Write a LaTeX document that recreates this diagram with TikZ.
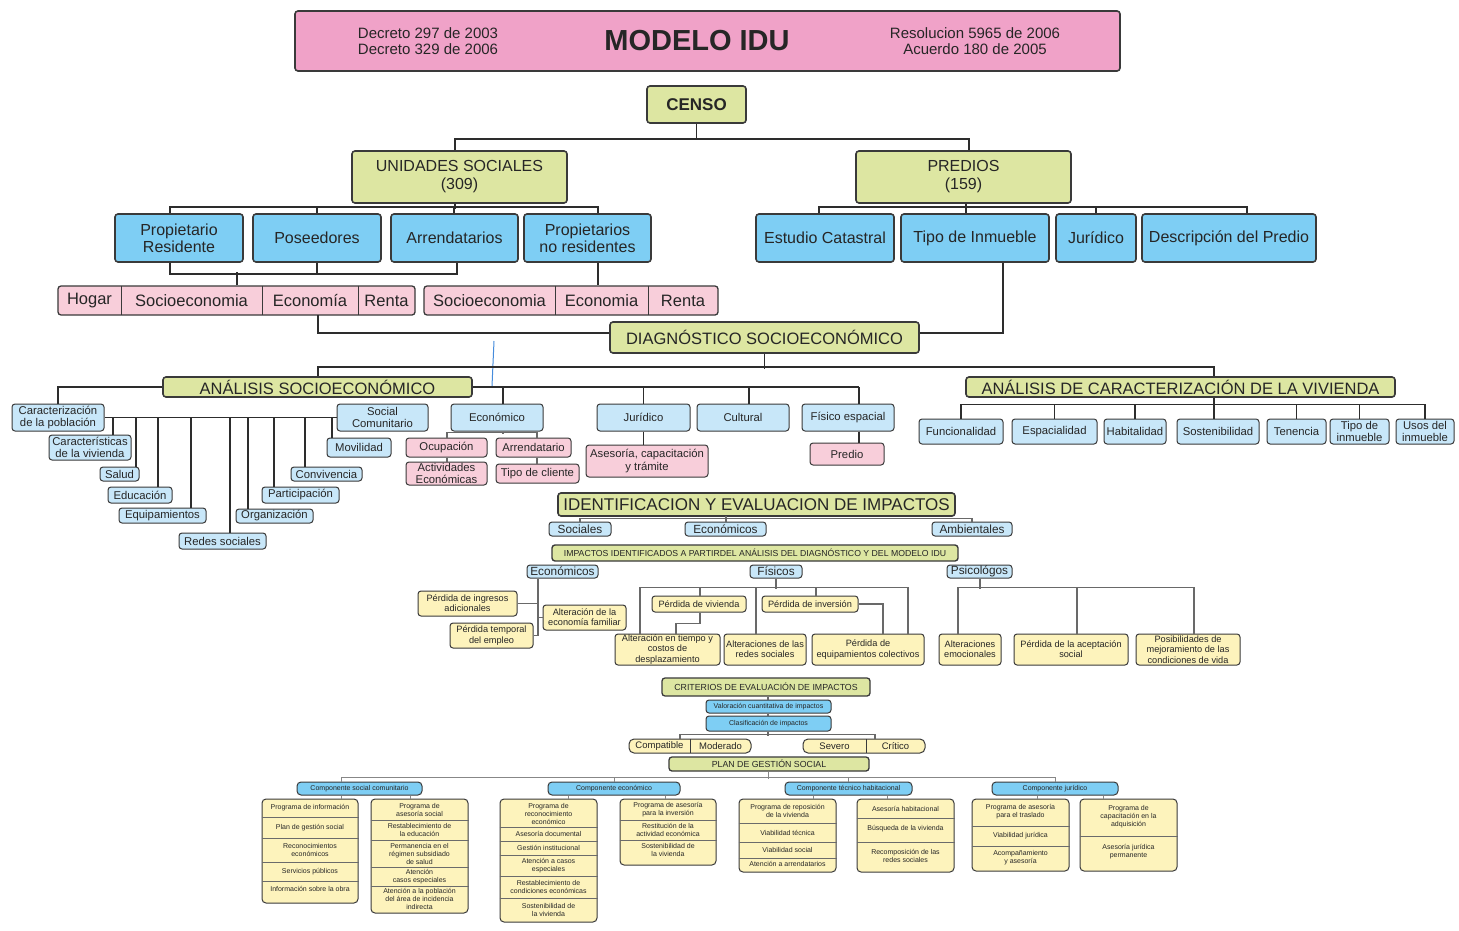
\documentclass[tikz,border=0pt]{standalone}
\usepackage{fontspec}
\setmainfont{Liberation Sans}
\usetikzlibrary{calc}
\definecolor{hdrc}{RGB}{240,162,200}
\definecolor{grnc}{RGB}{221,230,162}
\definecolor{bluc}{RGB}{126,206,244}
\definecolor{lbluc}{RGB}{200,231,249}
\definecolor{pnkc}{RGB}{248,206,218}
\definecolor{crmc}{RGB}{253,243,188}
\definecolor{edgec}{RGB}{58,58,58}
\definecolor{linec}{RGB}{45,45,45}
\definecolor{glinec}{RGB}{105,105,105}
\definecolor{strayc}{RGB}{70,140,220}
\newcommand\fz[2]{\fontsize{#1}{#2}\selectfont}
\newcommand\bx[7]{%
 \pgfmathsetmacro\bxw{#5-#3}\pgfmathsetmacro\bxh{#6-#4}%
 \pgfmathsetmacro\bxcx{(#3+#5)/2}\pgfmathsetmacro\bxcy{(#4+#6)/2}%
 \node[#1, minimum width=\bxw pt, minimum height=\bxh pt] (#2) at (\bxcx,\bxcy) {#7};}
\newcommand\itx[4]{\node[itm] (#1) at (#2,#3) {#4};}
\begin{document}
\begin{tikzpicture}[x=1pt,y=-1pt,
 box/.style={draw=edgec, rounded corners=3pt, line width=1.3pt, align=center, inner sep=0pt, text=black!85},
 bigbox/.style={box, line width=1.6pt},
 cell/.style={inner sep=0pt, align=center, text=black!85},
 sbox/.style={box, line width=1pt, fill=lbluc, font=\fz{11.3}{12.5}},
 spk/.style={box, line width=1pt, fill=pnkc, font=\fz{11.3}{12.5}},
 ibox/.style={box, line width=1pt, fill=crmc, font=\fz{9.2}{10.3}},
 cbox/.style={box, line width=1pt, fill=bluc, rounded corners=4pt, font=\fz{7}{8}},
 colbox/.style={box, line width=1pt, fill=crmc, rounded corners=4pt},
 itm/.style={cell, font=\fz{7}{8}},
 div/.style={draw=edgec!75, line width=0.7pt},
 con/.style={draw=linec, line width=1.5pt},
 gcon/.style={draw=glinec, line width=1.1pt},
 fcon/.style={draw=glinec!80, line width=0.8pt}]
\fill[white] (0,0) rectangle (1459,931);
\useasboundingbox (0,0) rectangle (1459,931);

% ---------- header ----------
\bx{bigbox, fill=hdrc}{hdr}{295}{11}{1120}{71}{}
\node[cell, font=\fz{15}{16}] (dec) at (428,41) {Decreto 297 de 2003\\Decreto 329 de 2006};
\node[cell, font=\bfseries\fz{29}{30}] (ttl) at (697,41) {MODELO IDU};
\node[cell, font=\fz{15}{16}] (res) at (975,41) {Resolucion 5965 de 2006\\Acuerdo 180 de 2005};

\bx{bigbox, fill=grnc, font=\bfseries\fz{17}{19}}{censo}{647}{86}{746}{123}{CENSO}
\bx{bigbox, fill=grnc, font=\fz{16}{18}}{us}{352}{151}{567}{203}{UNIDADES SOCIALES\\(309)}
\bx{bigbox, fill=grnc, font=\fz{16}{18}}{pd}{856}{151}{1071}{203}{PREDIOS\\(159)}
\draw[con] (censo.south) -- (censo.south |- 0,140);
\draw[con] (us.north -| 455,0) -- ++(0,-11) -| (pd.north -| 969,0);

% ---------- unidades sociales ----------
\bx{bigbox, fill=bluc, font=\fz{16}{17}}{pres}{115}{214}{243}{262}{Propietario\\Residente}
\bx{bigbox, fill=bluc, font=\fz{16}{17}}{pos}{253}{214}{381}{262}{Poseedores}
\bx{bigbox, fill=bluc, font=\fz{16}{17}}{arr}{391}{214}{518}{262}{Arrendatarios}
\bx{bigbox, fill=bluc, font=\fz{16}{17}}{pnr}{524}{214}{651}{262}{Propietarios\\no residentes}
\draw[con] (us.south -| 455,0) -- ++(0,5);
\draw[con] (pres.north -| 170,0) -- ++(0,-6) -| (pnr.north -| 598,0);
\draw[con] (pos.north -| 317,0) -- ++(0,-6);
\draw[con] (arr.north -| 454,0) -- ++(0,-6);

% ---------- predios ----------
\bx{bigbox, fill=bluc, font=\fz{16}{17}}{ec}{756}{214}{894}{262}{Estudio Catastral}
\bx{bigbox, fill=bluc, font=\fz{16}{17}}{ti}{901}{214}{1049}{262}{Tipo de Inmueble}
\bx{bigbox, fill=bluc, font=\fz{16}{17}}{ju}{1056}{214}{1136}{262}{Jurídico}
\bx{bigbox, fill=bluc, font=\fz{16}{17}}{dp}{1142}{214}{1316}{262}{Descripción del Predio}
\draw[con] (pd.south -| 966,0) -- (ti.north -| 966,0);
\draw[con] (ec.north -| 819,0) -- ++(0,-6) -| (dp.north -| 1247,0);
\draw[con] (ju.north -| 1096,0) -- ++(0,-6);

% ---------- pink rows ----------
\bx{bigbox, line width=1.3pt, fill=pnkc}{g1}{58}{286}{415}{315}{}
\bx{cell, font=\fz{16.5}{18}}{hog}{58}{286}{121}{315}{Hogar}
\bx{cell, font=\fz{16.5}{18}}{soc1}{121}{286}{262}{315}{Socioeconomia}
\bx{cell, font=\fz{16.5}{18}}{eco1}{262}{286}{358}{315}{Economía}
\bx{cell, font=\fz{16.5}{18}}{ren1}{358}{286}{415}{315}{Renta}
\bx{bigbox, line width=1.3pt, fill=pnkc}{g2}{424}{286}{718}{315}{}
\bx{cell, font=\fz{16.5}{18}}{soc2}{424}{286}{555}{315}{Socioeconomia}
\bx{cell, font=\fz{16.5}{18}}{eco2}{555}{286}{648}{315}{Economia}
\bx{cell, font=\fz{16.5}{18}}{ren2}{648}{286}{718}{315}{Renta}
\foreach \n in {hog,soc1,eco1,soc2,eco2} \draw[edgec, line width=1.2pt] (\n.north east) -- (\n.south east);
\draw[con] (pres.south -| 170,0) -- ++(0,11) -| (arr.south -| 457,0);
\draw[con] (pos.south -| 317,0) -- ++(0,11);
\draw[con] (g1.north -| 237,0) -- ++(0,-13);
\draw[con] (pnr.south -| 598,0) -- (g2.north -| 598,0);

% ---------- diagnostico ----------
\bx{bigbox, fill=grnc, font=\fz{16.5}{18}}{diag}{610}{322}{919}{353}{DIAGNÓSTICO SOCIOECONÓMICO}
\draw[con] (eco1.south -| 318,0) |- (diag.west |- 0,333);
\draw[con] (ti.south -| 1003,0) |- (diag.east |- 0,333);
\draw[strayc, line width=1pt] (494,341) -- (492,386);

\bx{bigbox, fill=grnc, font=\fz{16.5}{18}}{as}{163}{377}{472}{397}{ANÁLISIS SOCIOECONÓMICO}
\bx{bigbox, fill=grnc, font=\fz{16.5}{18}}{acv}{966}{377}{1395}{397}{ANÁLISIS DE CARACTERIZACIÓN DE LA VIVIENDA}
\draw[con] (diag.south) -- ++(0,15);
\draw[con] (as.north -| 318,0) -- ++(0,-9) -| (acv.north -| 1214,0);

% ---------- analisis socioeconomico ----------
\bx{sbox}{car}{12}{404}{104}{431}{Caracterización\\de la población}
\bx{sbox}{soc}{337}{404}{428}{431}{Social\\Comunitario}
\bx{sbox}{eco}{451}{404}{543}{431}{Económico}
\bx{sbox}{jur}{597}{404}{690}{431}{Jurídico}
\bx{sbox}{cul}{697}{404}{789}{431}{Cultural}
\bx{sbox}{fis}{802}{404}{894}{431}{Físico espacial}
\bx{sbox}{cv}{49}{435}{131}{460}{Características\\de la vivienda}
\bx{sbox}{sal}{100}{467}{139}{481}{Salud}
\bx{sbox}{edu}{108}{487}{172}{503}{Educación}
\bx{sbox}{equ}{119}{508}{206}{523}{Equipamientos}
\bx{sbox}{red}{179}{533}{266}{549}{Redes sociales}
\bx{sbox}{org}{236}{509}{313}{523}{Organización}
\bx{sbox}{par}{262}{487}{339}{503}{Participación}
\bx{sbox}{cnv}{291}{467}{362}{481}{Convivencia}
\bx{sbox}{mov}{327}{438}{391}{457}{Movilidad}
\draw[con] (as.west) -| (car.north);
\draw[con] (as.east) -- (as.east -| 859,0);
\draw[con] (eco.north -| 503,0) -- ++(0,-17);
\draw[con] (jur.north) -- ++(0,-17);
\draw[con] (cul.north -| 749,0) -- ++(0,-17);
\draw[con] (fis.north -| 859,0) -- ++(0,-17);
\draw[con] (car.east) -- (soc.west);
\foreach \n/\x in {cv/113,sal/136,edu/158,equ/191,red/230,org/248,par/274,cnv/305,mov/332}
  \draw[con] (\n.north -| \x,0) -- (car.east -| \x,0);

\bx{spk}{ocu}{406}{438}{487}{457}{Ocupación}
\bx{spk}{act}{406}{462}{487}{485}{Actividades\\Económicas}
\bx{spk}{arr2}{496}{438}{571}{457}{Arrendatario}
\bx{spk}{tdc}{496}{464}{579}{483}{Tipo de cliente}
\bx{spk}{ase}{586}{445}{708}{477}{Asesoría, capacitación\\y trámite}
\bx{spk}{pred}{810}{443}{884}{465}{Predio}
\draw[gcon] (eco.south -| 503,0) -- ++(0,2);
\draw[gcon] (ocu.north -| 447,0) -- ++(0,-5) -| (arr2.north -| 537,0);
\draw[gcon] (ocu.south -| 447,0) -- (act.north -| 447,0);
\draw[gcon] (arr2.south -| 537,0) -- (tdc.north -| 537,0);
\draw[con] (jur.south) -- (jur.south |- ase.north);
\draw[con] (fis.south -| 859,0) -- (pred.north -| 859,0);

% ---------- analisis vivienda ----------
\bx{sbox}{fun}{919}{419}{1003}{444}{Funcionalidad}
\bx{sbox}{esp}{1012}{419}{1097}{444}{Espacialidad}
\bx{sbox}{hab}{1104}{419}{1166}{444}{Habitalidad}
\bx{sbox}{sos}{1177}{419}{1259}{444}{Sostenibilidad}
\bx{sbox}{ten}{1267}{419}{1326}{444}{Tenencia}
\bx{sbox}{tip}{1330}{419}{1389}{444}{Tipo de\\inmueble}
\bx{sbox}{uso}{1396}{419}{1454}{444}{Usos del\\inmueble}
\draw[con] (acv.south -| 1214,0) -- ++(0,8);
\draw[con] (fun.north) -- ++(0,-14) -| (uso.north);
\foreach \n in {esp,hab,ten,tip} \draw[con] (\n.north) -- ++(0,-14);
\draw[con] (sos.north -| 1214,0) -- ++(0,-14);

% ---------- identificacion ----------
\bx{bigbox, fill=grnc, font=\fz{17}{19}}{idt}{558}{493}{955}{516}{IDENTIFICACION Y EVALUACION DE IMPACTOS}
\bx{sbox, font=\fz{11.8}{13}}{soc3}{549}{522}{611}{536}{Sociales}
\bx{sbox, font=\fz{11.8}{13}}{eco3}{685}{522}{766}{536}{Económicos}
\bx{sbox, font=\fz{11.8}{13}}{amb}{932}{522}{1012}{536}{Ambientales}
\draw[gcon] (soc3.north -| 580,0) -- ++(0,-3) -| (amb.north -| 972,0);
\draw[gcon] (eco3.north -| 726,0) -- ++(0,-6);

\bx{bigbox, line width=1.4pt, fill=grnc, font=\fz{8.7}{10}}{imp}{552}{545}{958}{561}{IMPACTOS IDENTIFICADOS A PARTIRDEL ANÁLISIS DEL DIAGNÓSTICO Y DEL MODELO IDU}
\bx{sbox, font=\fz{11.8}{13}}{ec4}{527}{565}{598}{578}{Económicos}
\bx{sbox, font=\fz{11.8}{13}}{fi4}{750}{565}{802}{578}{Físicos}
\bx{sbox, font=\fz{11.8}{13}}{ps4}{947}{565}{1012}{578}{Psicológos}

\bx{ibox}{pin}{418}{591}{517}{616}{Pérdida de ingresos\\adicionales}
\bx{ibox}{aef}{543}{605}{626}{630}{Alteración de la\\economía familiar}
\bx{ibox}{pte}{450}{623}{533}{648}{Pérdida temporal\\del empleo}
\draw[gcon] (ec4.south -| 538,0) -- (pte.east -| 538,0);
\draw[gcon] (pin.east) -- (pin.east -| 538,0);
\draw[gcon] (aef.west) -- (aef.west -| 538,0);
\draw[gcon] (pte.east) -- (pte.east -| 538,0);

\bx{ibox}{pvi}{652}{596}{746}{612}{Pérdida de vivienda}
\bx{ibox}{pin2}{762}{596}{858}{612}{Pérdida de inversión}
\bx{ibox}{alt}{615}{634}{720}{665}{Alteración en tiempo y\\costos de\\desplazamiento}
\bx{ibox}{ars}{724}{634}{806}{665}{Alteraciones de las\\redes sociales}
\bx{ibox}{peq}{812}{634}{924}{665}{Pérdida de\\equipamientos colectivos}
\draw[gcon] (fi4.south) -- ++(0,10);
\draw[gcon] (alt.north -| 640,0) -- ++(0,-46) -| (peq.north -| 908,0);
\draw[gcon] (pvi.north -| 700,0) -- ++(0,-8);
\draw[gcon] (ars.north -| 756,0) -- ++(0,-46);
\draw[gcon] (pin2.north -| 816,0) -- ++(0,-8);
\draw[gcon] (pvi.south -| 700,0) -- ++(0,11) -| (alt.north -| 676,0);
\draw[gcon] (pin2.east) -| (peq.north -| 883,0);

\bx{ibox}{aem}{939}{634}{1001}{665}{Alteraciones\\emocionales}
\bx{ibox}{pac}{1014}{634}{1128}{665}{Pérdida de la aceptación\\social}
\bx{ibox}{pos2}{1136}{634}{1240}{665}{Posibilidades de\\mejoramiento de las\\condiciones de vida}
\draw[gcon] (ps4.south -| 980,0) -- ++(0,10);
\draw[gcon] (aem.north -| 958,0) -- ++(0,-46) -| (pos2.north -| 1194,0);
\draw[gcon] (pac.north -| 1077,0) -- ++(0,-46);

% ---------- criterios ----------
\bx{bigbox, line width=1.3pt, fill=grnc, font=\fz{8.8}{10}}{cri}{662}{678}{870}{696}{CRITERIOS DE EVALUACIÓN DE IMPACTOS}
\bx{box, line width=1pt, fill=bluc, font=\fz{7}{8}}{val}{706}{700}{831}{713}{Valoración cuantitativa de impactos}
\bx{box, line width=1pt, fill=bluc, font=\fz{7}{8}}{cla}{706}{716}{831}{731}{Clasificación de impactos}
\draw[gcon] (cri.south -| 768,0) -- (val.north -| 768,0);
\draw[gcon] (val.south -| 768,0) -- (cla.north -| 768,0);
\draw[gcon] (cla.south -| 768,0) -- ++(0,4);

\bx{box, line width=1pt, fill=crmc, rounded corners=5pt}{cm}{629}{739}{751}{753}{}
\bx{cell, font=\fz{9.5}{11}}{com}{629}{739}{690}{753}{Compatible}
\bx{cell, font=\fz{9.5}{11}}{mod}{690}{739}{751}{753}{Moderado}
\bx{box, line width=1pt, fill=crmc, rounded corners=5pt}{sv}{803}{739}{925}{753}{}
\bx{cell, font=\fz{9.5}{11}}{sev}{803}{739}{866}{753}{Severo}
\bx{cell, font=\fz{9.5}{11}}{crt}{866}{739}{925}{753}{Crítico}
\draw[edgec, line width=1pt] (com.north east) -- (com.south east);
\draw[edgec, line width=1pt] (sev.north east) -- (sev.south east);
\draw[gcon] (cm.north -| 680,0) -- ++(0,-4) -| (sv.north -| 875,0);

\bx{bigbox, line width=1.3pt, fill=grnc, font=\fz{8.8}{10}}{plan}{669}{757}{869}{771}{PLAN DE GESTIÓN SOCIAL}

% ---------- componentes ----------
\bx{cbox}{cs}{297}{782}{422}{795}{Componente social comunitario}
\bx{cbox}{ce}{548}{782}{680}{795}{Componente económico}
\bx{cbox}{ct}{785}{782}{912}{795}{Componente técnico habitacional}
\bx{cbox}{cj}{992}{782}{1118}{795}{Componente jurídico}
\draw[fcon] (plan.south -| 768,0) -- ++(0,7);
\draw[fcon] (cs.north -| 341,0) -- ++(0,-4) -| (cj.north -| 1055,0);
\draw[fcon] (ce.north -| 614,0) -- ++(0,-4);
\draw[fcon] (ct.north -| 848,0) -- ++(0,-4);

\bx{colbox}{s1}{262}{799}{358}{903}{}
\bx{colbox}{s2}{371}{799}{468}{913}{}
\bx{colbox}{e1}{500}{799}{597}{922}{}
\bx{colbox}{e2}{620}{799}{716}{865}{}
\bx{colbox}{t1}{739}{799}{836}{872}{}
\bx{colbox}{t2}{857}{799}{954}{872}{}
\bx{colbox}{j1}{972}{799}{1069}{871}{}
\bx{colbox}{j2}{1080}{799}{1177}{871}{}
\draw[fcon] (s1.north -| 341,0) -- (cs.south -| 341,0);
\draw[fcon] (s2.north -| 410,0) -- (cs.south -| 410,0);
\draw[fcon] (e1.north -| 568,0) -- (ce.south -| 568,0);
\draw[fcon] (e2.north -| 665,0) -- (ce.south -| 665,0);
\draw[fcon] (t1.north -| 813,0) -- (ct.south -| 813,0);
\draw[fcon] (t2.north -| 887,0) -- (ct.south -| 887,0);
\draw[fcon] (j1.north -| 1037,0) -- (cj.south -| 1037,0);
\draw[fcon] (j2.north -| 1103,0) -- (cj.south -| 1103,0);

\foreach \y in {817,838,862,881} \draw[div] (s1.west |- 0,\y) -- (s1.east |- 0,\y);
\itx{s1a}{310}{808}{Programa de información}
\itx{s1b}{310}{828}{Plan de gestión social}
\itx{s1c}{310}{850}{Reconocimientos\\económicos}
\itx{s1d}{310}{871.5}{Servicios públicos}
\itx{s1e}{310}{889}{Información sobre la obra}

\foreach \y in {820,840,867,886} \draw[div] (s2.west |- 0,\y) -- (s2.east |- 0,\y);
\itx{s2a}{419.5}{810}{Programa de\\asesoría social}
\itx{s2b}{419.5}{830}{Restablecimiento de\\la educación}
\itx{s2c}{419.5}{853.5}{Permanencia en el\\régimen subsidiado\\de salud}
\itx{s2d}{419.5}{876.5}{Atención\\casos especiales}
\itx{s2e}{419.5}{899}{Atención a la población\\del área de incidencia\\indirecta}

\foreach \y in {827,841,855,876,898} \draw[div] (e1.west |- 0,\y) -- (e1.east |- 0,\y);
\itx{e1a}{548.5}{814}{Programa de\\reconocimiento\\económico}
\itx{e1b}{548.5}{834}{Asesoría documental}
\itx{e1c}{548.5}{848}{Gestión institucional}
\itx{e1d}{548.5}{865.5}{Atención a casos\\especiales}
\itx{e1e}{548.5}{887}{Restablecimiento de\\condiciones económicas}
\itx{e1f}{548.5}{910}{Sostenibilidad de\\la vivienda}

\foreach \y in {820,840} \draw[div] (e2.west |- 0,\y) -- (e2.east |- 0,\y);
\itx{e2a}{668}{810}{Programa de asesoría\\para la inversión}
\itx{e2b}{668}{830}{Restitución de la\\actividad económica}
\itx{e2c}{668}{850}{Sostenibilidad de\\la vivienda}

\foreach \y in {823,842,858} \draw[div] (t1.west |- 0,\y) -- (t1.east |- 0,\y);
\itx{t1a}{787.5}{811}{Programa de reposición\\de la vivienda}
\itx{t1b}{787.5}{832.5}{Viabilidad técnica}
\itx{t1c}{787.5}{850}{Viabilidad social}
\itx{t1d}{787.5}{864}{Atención a arrendatarios}

\foreach \y in {818,842} \draw[div] (t2.west |- 0,\y) -- (t2.east |- 0,\y);
\itx{t2a}{905.5}{808.5}{Asesoría habitacional}
\itx{t2b}{905.5}{829}{Búsqueda de la vivienda}
\itx{t2c}{905.5}{856}{Recomposición de las\\redes sociales}

\foreach \y in {826,846} \draw[div] (j1.west |- 0,\y) -- (j1.east |- 0,\y);
\itx{j1a}{1020.5}{812}{Programa de asesoría\\para el traslado}
\itx{j1b}{1020.5}{836}{Viabilidad jurídica}
\itx{j1c}{1020.5}{858}{Acompañamiento\\y asesoría}

\foreach \y in {836} \draw[div] (j2.west |- 0,\y) -- (j2.east |- 0,\y);
\itx{j2a}{1128.5}{817}{Programa de\\capacitación en la\\adquisición}
\itx{j2b}{1128.5}{852}{Asesoría jurídica\\permanente}
\end{tikzpicture}
\end{document}
